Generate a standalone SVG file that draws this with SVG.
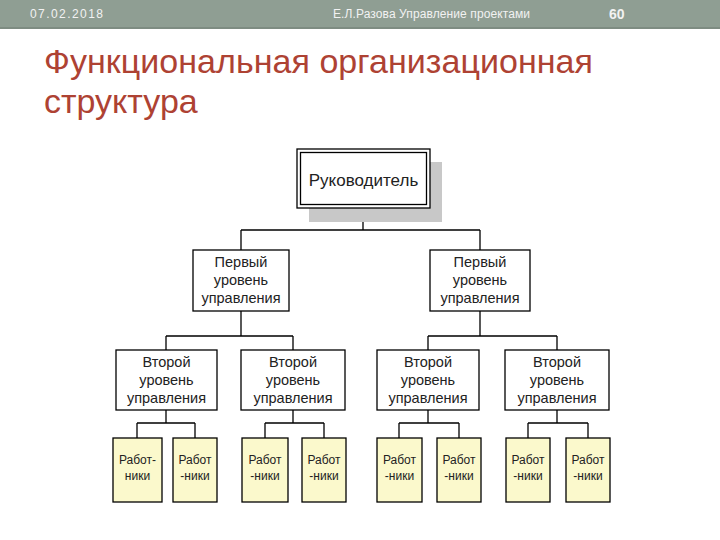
<svg xmlns="http://www.w3.org/2000/svg" width="720" height="540" viewBox="0 0 720 540">
<style>
.hdr{font-family:"Liberation Sans",Arial,sans-serif;fill:#F2F2F2;font-size:12px}
.ttl{font-family:"Liberation Sans",Arial,sans-serif;fill:#AE4233;font-size:34px}
.box{fill:#FFFFFF;stroke:#000;stroke-width:1.3}
.wrk{fill:#FBF9CC;stroke:#000;stroke-width:1.3}
.t{font-family:"Liberation Sans",Arial,sans-serif;fill:#222;text-anchor:middle}
.t14{font-size:14.5px}
.t12{font-size:12px}
.con{fill:none;stroke:#000;stroke-width:1.3}
</style>
<rect width="720" height="540" fill="#FFFFFF"/>
<g id="header">
<rect x="0" y="0" width="720" height="27" fill="#8F9E93"/>
<rect x="0" y="27" width="720" height="2" fill="#7E8C82"/>
<text class="hdr" x="30" y="18" textLength="73">07.02.2018</text>
<text class="hdr" x="333" y="18" textLength="197">Е.Л.Разова Управление проектами</text>
<text class="hdr" x="609" y="19" style="font-size:14px;font-weight:bold">60</text>
</g>
<g id="title">
<text class="ttl" x="44" y="73" textLength="549">Функциональная организационная</text>
<text class="ttl" x="44" y="113">структура</text>
</g>
<g id="connectors">
<path class="con" d="M363 208V230M241 230H480M241 230V250M480 230V250"/>
<path class="con" d="M241 311V336M166 336H293M166 336V350M293 336V350"/>
<path class="con" d="M480 311V336M428 336H557M428 336V350M557 336V350"/>
<path class="con" d="M166 410V423M137 423H195M137 423V438M195 423V438"/>
<path class="con" d="M293 410V423M265 423H324M265 423V438M324 423V438"/>
<path class="con" d="M428 410V423M399 423H459M399 423V438M459 423V438"/>
<path class="con" d="M557 410V423M528 423H588M528 423V438M588 423V438"/>
</g>
<g id="n-head">
<rect x="309" y="162" width="133" height="60" fill="#C8C8C8"/>
<rect x="297" y="149" width="133" height="59" fill="#FFFFFF" stroke="#000" stroke-width="1.3"/>
<rect x="300.5" y="152.5" width="126" height="52" fill="none" stroke="#000" stroke-width="1.3"/>
<text class="t" x="363.5" y="186" style="font-size:17px">Руководитель</text>
</g>
<g id="n-l1a">
<rect class="box" x="193" y="250" width="96" height="61"/>
<text class="t t14" x="241" y="267">Первый</text>
<text class="t t14" x="241" y="285">уровень</text>
<text class="t t14" x="241" y="303">управления</text>
</g>
<g id="n-l1b">
<rect class="box" x="430" y="250" width="100" height="61"/>
<text class="t t14" x="480" y="267">Первый</text>
<text class="t t14" x="480" y="285">уровень</text>
<text class="t t14" x="480" y="303">управления</text>
</g>
<g id="n-l2a">
<rect class="box" x="116" y="350" width="101" height="60"/>
<text class="t t14" x="166.5" y="367">Второй</text>
<text class="t t14" x="166.5" y="385">уровень</text>
<text class="t t14" x="166.5" y="403">управления</text>
</g>
<g id="n-l2b">
<rect class="box" x="241" y="350" width="104" height="60"/>
<text class="t t14" x="293" y="367">Второй</text>
<text class="t t14" x="293" y="385">уровень</text>
<text class="t t14" x="293" y="403">управления</text>
</g>
<g id="n-l2c">
<rect class="box" x="377" y="350" width="102" height="60"/>
<text class="t t14" x="428" y="367">Второй</text>
<text class="t t14" x="428" y="385">уровень</text>
<text class="t t14" x="428" y="403">управления</text>
</g>
<g id="n-l2d">
<rect class="box" x="505" y="350" width="104" height="60"/>
<text class="t t14" x="557" y="367">Второй</text>
<text class="t t14" x="557" y="385">уровень</text>
<text class="t t14" x="557" y="403">управления</text>
</g>
<g id="n-w1">
<rect class="wrk" x="113" y="438" width="49" height="64"/>
<text class="t t12" x="137.5" y="464">Работ-</text>
<text class="t t12" x="137.5" y="480">ники</text>
</g>
<g id="n-w2">
<rect class="wrk" x="173" y="438" width="44" height="64"/>
<text class="t t12" x="195" y="464">Работ</text>
<text class="t t12" x="195" y="480">-ники</text>
</g>
<g id="n-w3">
<rect class="wrk" x="242" y="438" width="46" height="64"/>
<text class="t t12" x="265" y="464">Работ</text>
<text class="t t12" x="265" y="480">-ники</text>
</g>
<g id="n-w4">
<rect class="wrk" x="302" y="438" width="44" height="64"/>
<text class="t t12" x="324" y="464">Работ</text>
<text class="t t12" x="324" y="480">-ники</text>
</g>
<g id="n-w5">
<rect class="wrk" x="377" y="438" width="45" height="64"/>
<text class="t t12" x="399.5" y="464">Работ</text>
<text class="t t12" x="399.5" y="480">-ники</text>
</g>
<g id="n-w6">
<rect class="wrk" x="437" y="438" width="44" height="64"/>
<text class="t t12" x="459" y="464">Работ</text>
<text class="t t12" x="459" y="480">-ники</text>
</g>
<g id="n-w7">
<rect class="wrk" x="506" y="438" width="44" height="64"/>
<text class="t t12" x="528" y="464">Работ</text>
<text class="t t12" x="528" y="480">-ники</text>
</g>
<g id="n-w8">
<rect class="wrk" x="566" y="438" width="44" height="64"/>
<text class="t t12" x="588" y="464">Работ</text>
<text class="t t12" x="588" y="480">-ники</text>
</g>
</svg>
